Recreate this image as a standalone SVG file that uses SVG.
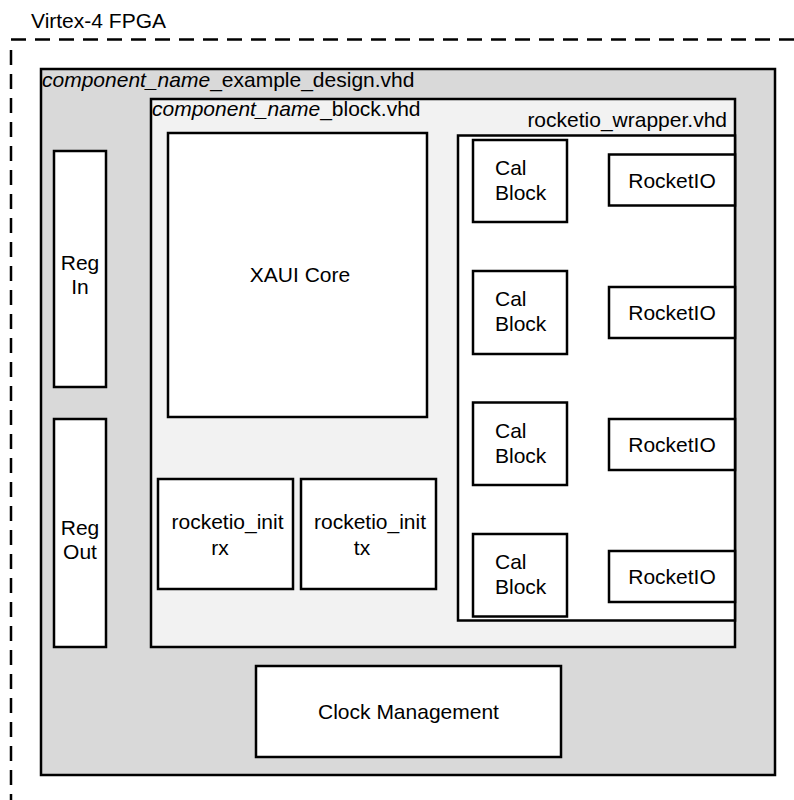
<svg xmlns="http://www.w3.org/2000/svg" width="794" height="800" viewBox="0 0 794 800">
  <style>
    text { font-family: "Liberation Sans", Arial, Helvetica, sans-serif; font-size: 21px; fill: #000; }
    .box { fill: #fff; stroke: #000; stroke-width: 2.5; }
    .mid { text-anchor: middle; }
    .it { font-style: italic; }
    .dash { fill: none; stroke: #000; stroke-width: 2.5; stroke-dasharray: 15 9; }
  </style>
  <rect width="794" height="800" fill="#fff"/>

  <g id="fpga">
    <text x="31" y="28">Virtex-4 FPGA</text>
    <line class="dash" x1="11" y1="39.5" x2="794" y2="39.5"/>
    <line class="dash" x1="11" y1="50" x2="11" y2="800"/>
  </g>

  <g id="example_design">
    <rect x="41" y="69" width="734" height="706" fill="#d9d9d9" stroke="#000" stroke-width="2.5"/>
    <text x="42" y="87"><tspan class="it">component_name</tspan>_example_design.vhd</text>
  </g>

  <g id="block">
    <rect x="151" y="99" width="584" height="548" fill="#f2f2f2" stroke="#000" stroke-width="2.5"/>
    <text x="152" y="116"><tspan class="it">component_name</tspan>_block.vhd</text>
  </g>

  <g id="xaui_core">
    <rect class="box" x="168" y="133" width="259" height="284"/>
    <text class="mid" x="300" y="282">XAUI Core</text>
  </g>

  <g id="rocketio_wrapper">
    <text x="727" y="127" text-anchor="end">rocketio_wrapper.vhd</text>
    <rect class="box" x="458" y="135.5" width="277" height="485"/>
  </g>

  <g id="cal_block_1">
    <rect class="box" x="473" y="140" width="94" height="82"/>
    <text x="495" y="175">Cal</text>
    <text x="495" y="200">Block</text>
  </g>
  <g id="cal_block_2">
    <rect class="box" x="473" y="271" width="94" height="83"/>
    <text x="495" y="306">Cal</text>
    <text x="495" y="331">Block</text>
  </g>
  <g id="cal_block_3">
    <rect class="box" x="473" y="402.5" width="94" height="82.5"/>
    <text x="495" y="437.5">Cal</text>
    <text x="495" y="462.5">Block</text>
  </g>
  <g id="cal_block_4">
    <rect class="box" x="473" y="534" width="94" height="82.5"/>
    <text x="495" y="569">Cal</text>
    <text x="495" y="594">Block</text>
  </g>

  <g id="rocketio_1">
    <rect class="box" x="609" y="154.5" width="126" height="51"/>
    <text class="mid" x="672" y="187.5">RocketIO</text>
  </g>
  <g id="rocketio_2">
    <rect class="box" x="609" y="287" width="126" height="51"/>
    <text class="mid" x="672" y="320">RocketIO</text>
  </g>
  <g id="rocketio_3">
    <rect class="box" x="609" y="419" width="126" height="51"/>
    <text class="mid" x="672" y="452">RocketIO</text>
  </g>
  <g id="rocketio_4">
    <rect class="box" x="609" y="551" width="126" height="51"/>
    <text class="mid" x="672" y="584">RocketIO</text>
  </g>

  <g id="reg_in">
    <rect class="box" x="54" y="151" width="52" height="236"/>
    <text class="mid" x="80" y="270">Reg</text>
    <text class="mid" x="80" y="294">In</text>
  </g>
  <g id="reg_out">
    <rect class="box" x="54" y="419" width="52" height="228"/>
    <text class="mid" x="80" y="535">Reg</text>
    <text class="mid" x="80" y="559">Out</text>
  </g>

  <g id="rocketio_init_rx">
    <rect class="box" x="158" y="479" width="135" height="110"/>
    <text class="mid" x="227.5" y="529">rocketio_init</text>
    <text class="mid" x="220" y="555">rx</text>
  </g>
  <g id="rocketio_init_tx">
    <rect class="box" x="301" y="479" width="135" height="110"/>
    <text class="mid" x="370" y="529">rocketio_init</text>
    <text class="mid" x="362" y="555">tx</text>
  </g>

  <g id="clock_management">
    <rect class="box" x="256" y="666" width="305" height="91"/>
    <text class="mid" x="408.5" y="719">Clock Management</text>
  </g>

  <g id="connectors"></g>
</svg>
